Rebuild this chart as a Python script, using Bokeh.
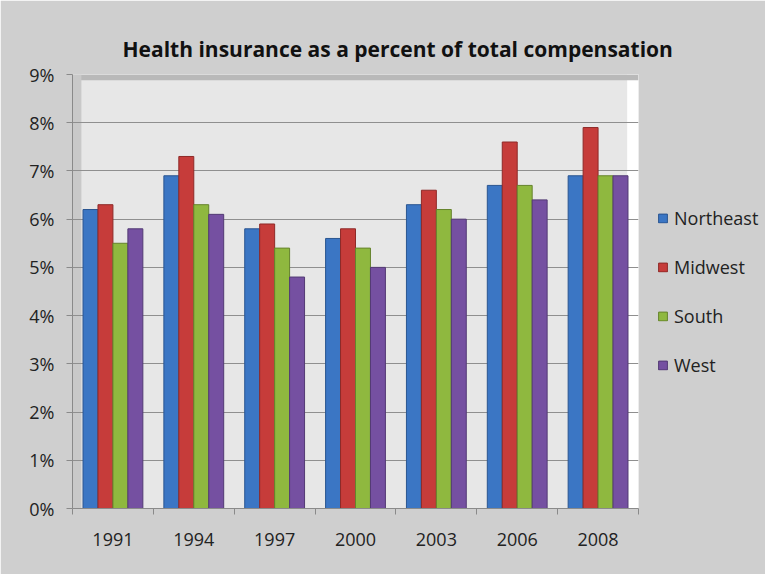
from bokeh.plotting import figure
from bokeh.models import (ColumnDataSource, Range1d, FixedTicker, LinearAxis, Title,
                          Legend, LegendItem, BoxAnnotation, Grid)
from bokeh.transform import dodge
from bokeh.embed import file_html
from bokeh.resources import INLINE

years = ["1991", "1994", "1997", "2000", "2003", "2006", "2008"]
northeast = [6.2, 6.9, 5.8, 5.6, 6.3, 6.7, 6.9]
midwest = [6.3, 7.3, 5.9, 5.8, 6.6, 7.6, 7.9]
south = [5.5, 6.3, 5.4, 5.4, 6.2, 6.7, 6.9]
west = [5.8, 6.1, 4.8, 5.0, 6.0, 6.4, 6.9]
series_names = ["Northeast", "Midwest", "South", "West"]
y_ticks = [0, 1, 2, 3, 4, 5, 6, 7, 8, 9]
title_text = "Health insurance as a percent of total compensation"

colors = ["#3b76c4", "#c63c3a", "#8fb83f", "#7550a1"]
edges = ["#2a5590", "#8e2a28", "#65832c", "#533a74"]

centers = [i + 0.5 for i in range(len(years))]
boundaries = list(range(len(years) + 1))
src = ColumnDataSource(dict(x=centers, year=years, northeast=northeast,
                            midwest=midwest, south=south, west=west))

FONT = "Open Sans"
BG = "#cfcfcf"
TXT = "#222222"

p = figure(frame_width=566, frame_height=434, output_backend="svg", toolbar_location=None,
           x_range=Range1d(0, len(years)), y_range=Range1d(0, 9),
           min_border_left=72, min_border_right=127, min_border_top=74,
           min_border_bottom=66, x_axis_type=None, y_axis_type=None)
p.border_fill_color = BG
p.background_fill_color = "#e7e7e7"
p.outline_line_color = None

# Wall edge shading (3D look)
p.add_layout(BoxAnnotation(left=6.86, right=7, bottom=0, top=9,
                           fill_color="#ffffff", fill_alpha=1, line_color=None, level="underlay"))
p.add_layout(BoxAnnotation(left=0, right=7, bottom=8.88, top=9,
                           fill_color="#b9b9b9", fill_alpha=1, line_color=None, level="underlay"))
p.add_layout(BoxAnnotation(left=0, right=0.11, bottom=0, top=9,
                           fill_color="#c9c9c9", fill_alpha=1, line_color=None, level="underlay"))

# y axis
yaxis = LinearAxis(ticker=FixedTicker(ticks=y_ticks))
yaxis.major_label_overrides = {t: f"{t}%" for t in y_ticks}
yaxis.major_label_text_font = FONT
yaxis.major_label_text_font_size = "18px"
yaxis.major_label_text_color = TXT
yaxis.axis_line_color = "#8a8a8a"
yaxis.major_tick_line_color = "#8a8a8a"
yaxis.major_tick_out = 6
yaxis.major_tick_in = 0
yaxis.minor_tick_line_color = None
yaxis.major_label_standoff = 12
p.add_layout(yaxis, "left")

# x axis: labels at category centers, tick marks at category boundaries
xaxis = LinearAxis(ticker=FixedTicker(ticks=centers, minor_ticks=boundaries))
xaxis.major_label_overrides = {c: y for c, y in zip(centers, years)}
xaxis.major_label_text_font = FONT
xaxis.major_label_text_font_size = "18px"
xaxis.major_label_text_color = TXT
xaxis.axis_line_color = "#8a8a8a"
xaxis.major_tick_line_color = None
xaxis.major_tick_out = 6
xaxis.major_tick_in = 0
xaxis.minor_tick_line_color = "#8a8a8a"
xaxis.minor_tick_out = 6
xaxis.minor_tick_in = 0
xaxis.major_label_standoff = 18
p.add_layout(xaxis, "below")

p.add_layout(Grid(dimension=1, ticker=FixedTicker(ticks=y_ticks[1:]),
                  grid_line_color="#8f8f8f", grid_line_width=1))

# bars
bw = 0.185
offsets = [-1.5 * bw, -0.5 * bw, 0.5 * bw, 1.5 * bw]
fields = ["northeast", "midwest", "south", "west"]
renderers = []
for f, off, c, e in zip(fields, offsets, colors, edges):
    r = p.vbar(x=dodge("x", off, range=p.x_range), top=f, width=bw, bottom=0,
               source=src, fill_color=c, line_color=e, line_width=1)
    renderers.append(r)

legend = Legend(items=[LegendItem(label=n, renderers=[r]) for n, r in zip(series_names, renderers)],
                location="center_left", orientation="vertical")
legend.label_text_font = FONT
legend.label_text_font_size = "18px"
legend.label_text_color = TXT
legend.glyph_width = 11
legend.glyph_height = 11
legend.label_height = 14
legend.label_standoff = 6
legend.spacing = 25
legend.padding = 0
legend.margin = 19
legend.border_line_color = None
legend.background_fill_alpha = 0
p.add_layout(legend, "right")

title = Title(text=title_text, text_font=FONT, text_font_size="21px",
              text_font_style="bold", align="left", offset=50, standoff=24,
              text_color="#111111")
p.add_layout(title, "above")

open("out.html", "w").write(file_html(p, INLINE))
